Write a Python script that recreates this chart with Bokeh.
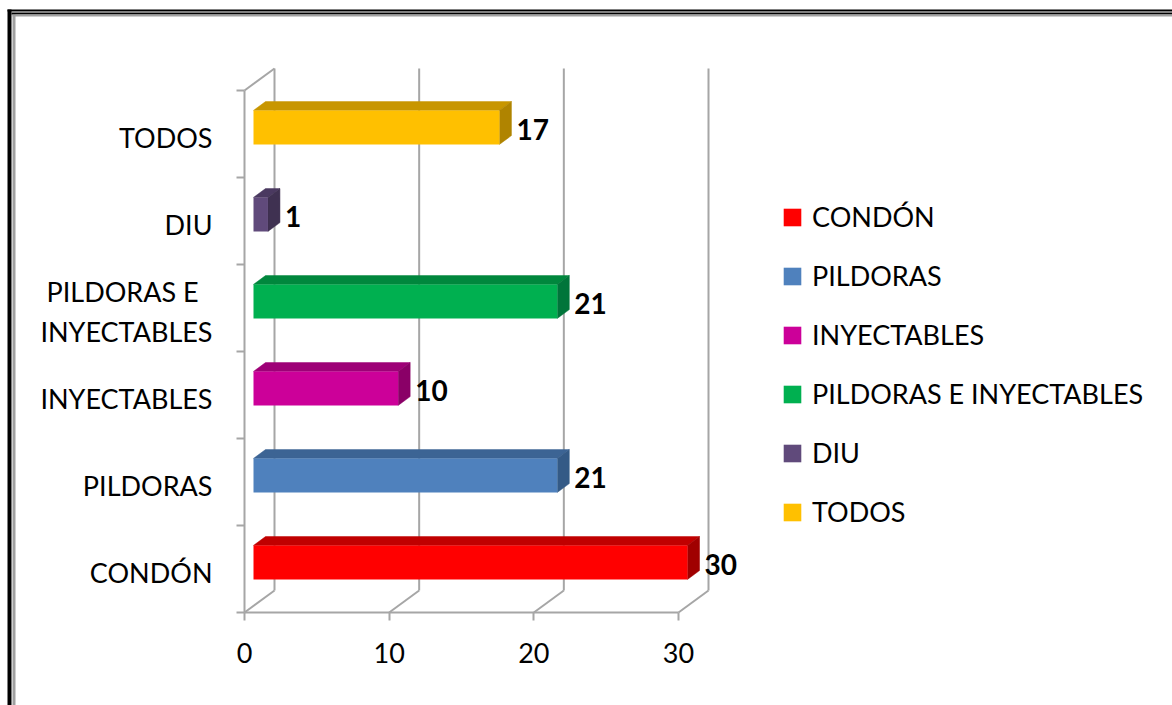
import numpy as np
from bokeh.plotting import figure
from bokeh.models import (LinearAxis, FixedTicker, Range1d, ColumnDataSource,
                          Legend, LegendItem)
from bokeh.core.properties import value
from bokeh.embed import file_html
from bokeh.resources import INLINE

# ---------------- data ----------------
categories = ["CONDÓN", "PILDORAS", "INYECTABLES", "PILDORAS E INYECTABLES", "DIU", "TODOS"]
axis_labels = ["CONDÓN", "PILDORAS", "INYECTABLES", "PILDORAS E\u00a0\u00a0\nINYECTABLES", "DIU", "TODOS"]
values = [30, 21, 10, 21, 1, 17]
x_ticks = [0, 10, 20, 30]
front_colors = ["#FF0000", "#4F81BD", "#CC0099", "#00B050", "#604A7B", "#FFC000"]
top_colors = ["#C00000", "#3C6494", "#9E0077", "#00873D", "#4A3960", "#C89600"]
side_colors = ["#A00000", "#345A86", "#8A0067", "#00753A", "#3F3151", "#B08400"]

# ---------------- geometry (pixels) ----------------
W, H = 1172, 705
PX_X = 434 / 30.0          # px per value unit
PX_Y = 87.0                # px per category slot
ORIGIN_X = 244             # px of value 0 (front plane)
ORIGIN_Y = 612             # px (from top) of category floor
DX = 30 / PX_X             # depth offset in data units
DY = 22 / PX_Y
D0, D1 = 0.3, 0.7          # bar depth span (fraction of depth)
BAR_H = 34 / PX_Y
FONT = "Lato"
FS = "27px"
GRID = "#A6A6A6"

def dx_px(px):
    return (px - ORIGIN_X) / PX_X

def dy_px(py):
    return (ORIGIN_Y - py) / PX_Y

n = len(categories)
ncat = n
vals = np.array(values, dtype=float)
idx = np.arange(n)

# bar faces
left = np.full(n, D0 * DX)
right = vals + D0 * DX
bottom = idx + 0.5 - BAR_H / 2 + D0 * DY
top = bottom + BAR_H
ddx = (D1 - D0) * DX
ddy = (D1 - D0) * DY

front_src = ColumnDataSource(dict(left=left, right=right, bottom=bottom, top=top,
                                  color=front_colors, label=categories))
top_src = ColumnDataSource(dict(
    xs=[[l, r, r + ddx, l + ddx] for l, r in zip(left, right)],
    ys=[[t, t, t + ddy, t + ddy] for t in top],
    color=top_colors))
side_src = ColumnDataSource(dict(
    xs=[[r, r, r + ddx, r + ddx] for r in right],
    ys=[[b, t, t + ddy, b + ddy] for b, t in zip(bottom, top)],
    color=side_colors))

p = figure(width=W, height=H, output_backend="svg", toolbar_location=None,
           x_range=Range1d(-ORIGIN_X / PX_X, (W - ORIGIN_X) / PX_X),
           y_range=Range1d(-(H - ORIGIN_Y) / PX_Y, ORIGIN_Y / PX_Y),
           x_axis_location=None, y_axis_location=None,
           min_border=0, min_border_left=0, min_border_right=0,
           min_border_top=0, min_border_bottom=0)
p.outline_line_color = None
p.grid.visible = False
p.background_fill_color = "white"
p.border_fill_color = "white"

# outer frame of the picture
x_far = dx_px(W)
y_far = dy_px(H)
p.segment(x0=[dx_px(9)], y0=[dy_px(9)], x1=[dx_px(9)], y1=[y_far], line_color="black", line_width=4)
p.segment(x0=[dx_px(13.5)], y0=[dy_px(14)], x1=[dx_px(13.5)], y1=[y_far], line_color="#A0A0A0", line_width=3)
p.segment(x0=[dx_px(7), dx_px(11)], y0=[dy_px(10), dy_px(13)], x1=[x_far, x_far],
          y1=[dy_px(10), dy_px(13)], line_color="black", line_width=2)
p.segment(x0=[dx_px(12)], y0=[dy_px(15)], x1=[x_far], y1=[dy_px(15)], line_color="#A0A0A0", line_width=2)

# 3-D walls / gridlines
xt = np.array(x_ticks, dtype=float)
p.segment(x0=xt + DX, y0=np.full(len(xt), DY), x1=xt + DX, y1=np.full(len(xt), ncat + DY),
          line_color=GRID, line_width=2)
p.segment(x0=xt, y0=np.zeros(len(xt)), x1=xt + DX, y1=np.full(len(xt), DY),
          line_color=GRID, line_width=2)
p.segment(x0=[0], y0=[ncat], x1=[DX], y1=[ncat + DY], line_color=GRID, line_width=2)

# bars
p.patches(xs="xs", ys="ys", fill_color="color", line_color="color", line_width=0.5, source=top_src)
p.patches(xs="xs", ys="ys", fill_color="color", line_color="color", line_width=0.5, source=side_src)
front_r = p.quad(left="left", right="right", bottom="bottom", top="top",
                 fill_color="color", line_color=None, source=front_src)

# value labels
lab_src = ColumnDataSource(dict(x=vals + D1 * DX + 5 / PX_X,
                                y=idx + 0.5 + D0 * DY - 0.02,
                                t=[str(v) for v in values]))
p.text(x="x", y="y", text="t", source=lab_src, text_font=value(FONT),
       text_font_style="bold", text_font_size="28px", text_align="left",
       text_baseline="middle", text_color="black")

# value axis
xaxis = LinearAxis(fixed_location=0, bounds=(0, max(x_ticks)),
                   ticker=FixedTicker(ticks=x_ticks))
xaxis.axis_line_color = GRID
xaxis.axis_line_width = 2
xaxis.major_tick_line_color = GRID
xaxis.major_tick_line_width = 2
xaxis.major_tick_out = 8
xaxis.major_tick_in = 0
xaxis.minor_tick_line_color = None
xaxis.major_label_text_font = FONT
xaxis.major_label_text_font_size = FS
xaxis.major_label_text_color = "black"
xaxis.major_label_standoff = 22
p.add_layout(xaxis, "below")

# category axis: labels at slot centres, tick marks at slot boundaries
cat_ticks = [i + 0.5 - 0.04 for i in range(ncat)]
caxis = LinearAxis(fixed_location=0, bounds=(0, ncat),
                   ticker=FixedTicker(ticks=cat_ticks, minor_ticks=list(range(ncat + 1))),
                   major_label_overrides={t: lab for t, lab in zip(cat_ticks, axis_labels)})
caxis.axis_line_color = GRID
caxis.axis_line_width = 2
caxis.major_tick_line_color = None
caxis.major_tick_out = 0
caxis.major_tick_in = 0
caxis.minor_tick_line_color = GRID
caxis.minor_tick_line_width = 2
caxis.minor_tick_out = 8
caxis.minor_tick_in = 0
caxis.major_label_standoff = 24
caxis.major_label_text_font = FONT
caxis.major_label_text_font_size = FS
caxis.major_label_text_color = "black"
p.add_layout(caxis, "left")

# legend
legend = Legend(items=[LegendItem(label=c, renderers=[front_r], index=i)
                       for i, c in enumerate(categories)],
                location=(781, 177))
legend.label_text_font = FONT
legend.label_text_font_size = FS
legend.label_text_color = "black"
legend.glyph_width = 22
legend.glyph_height = 22
legend.label_standoff = 9
legend.spacing = 26
legend.padding = 0
legend.margin = 0
legend.border_line_color = None
legend.background_fill_alpha = 0
p.add_layout(legend)

open("out.html", "w").write(file_html(p, INLINE))
